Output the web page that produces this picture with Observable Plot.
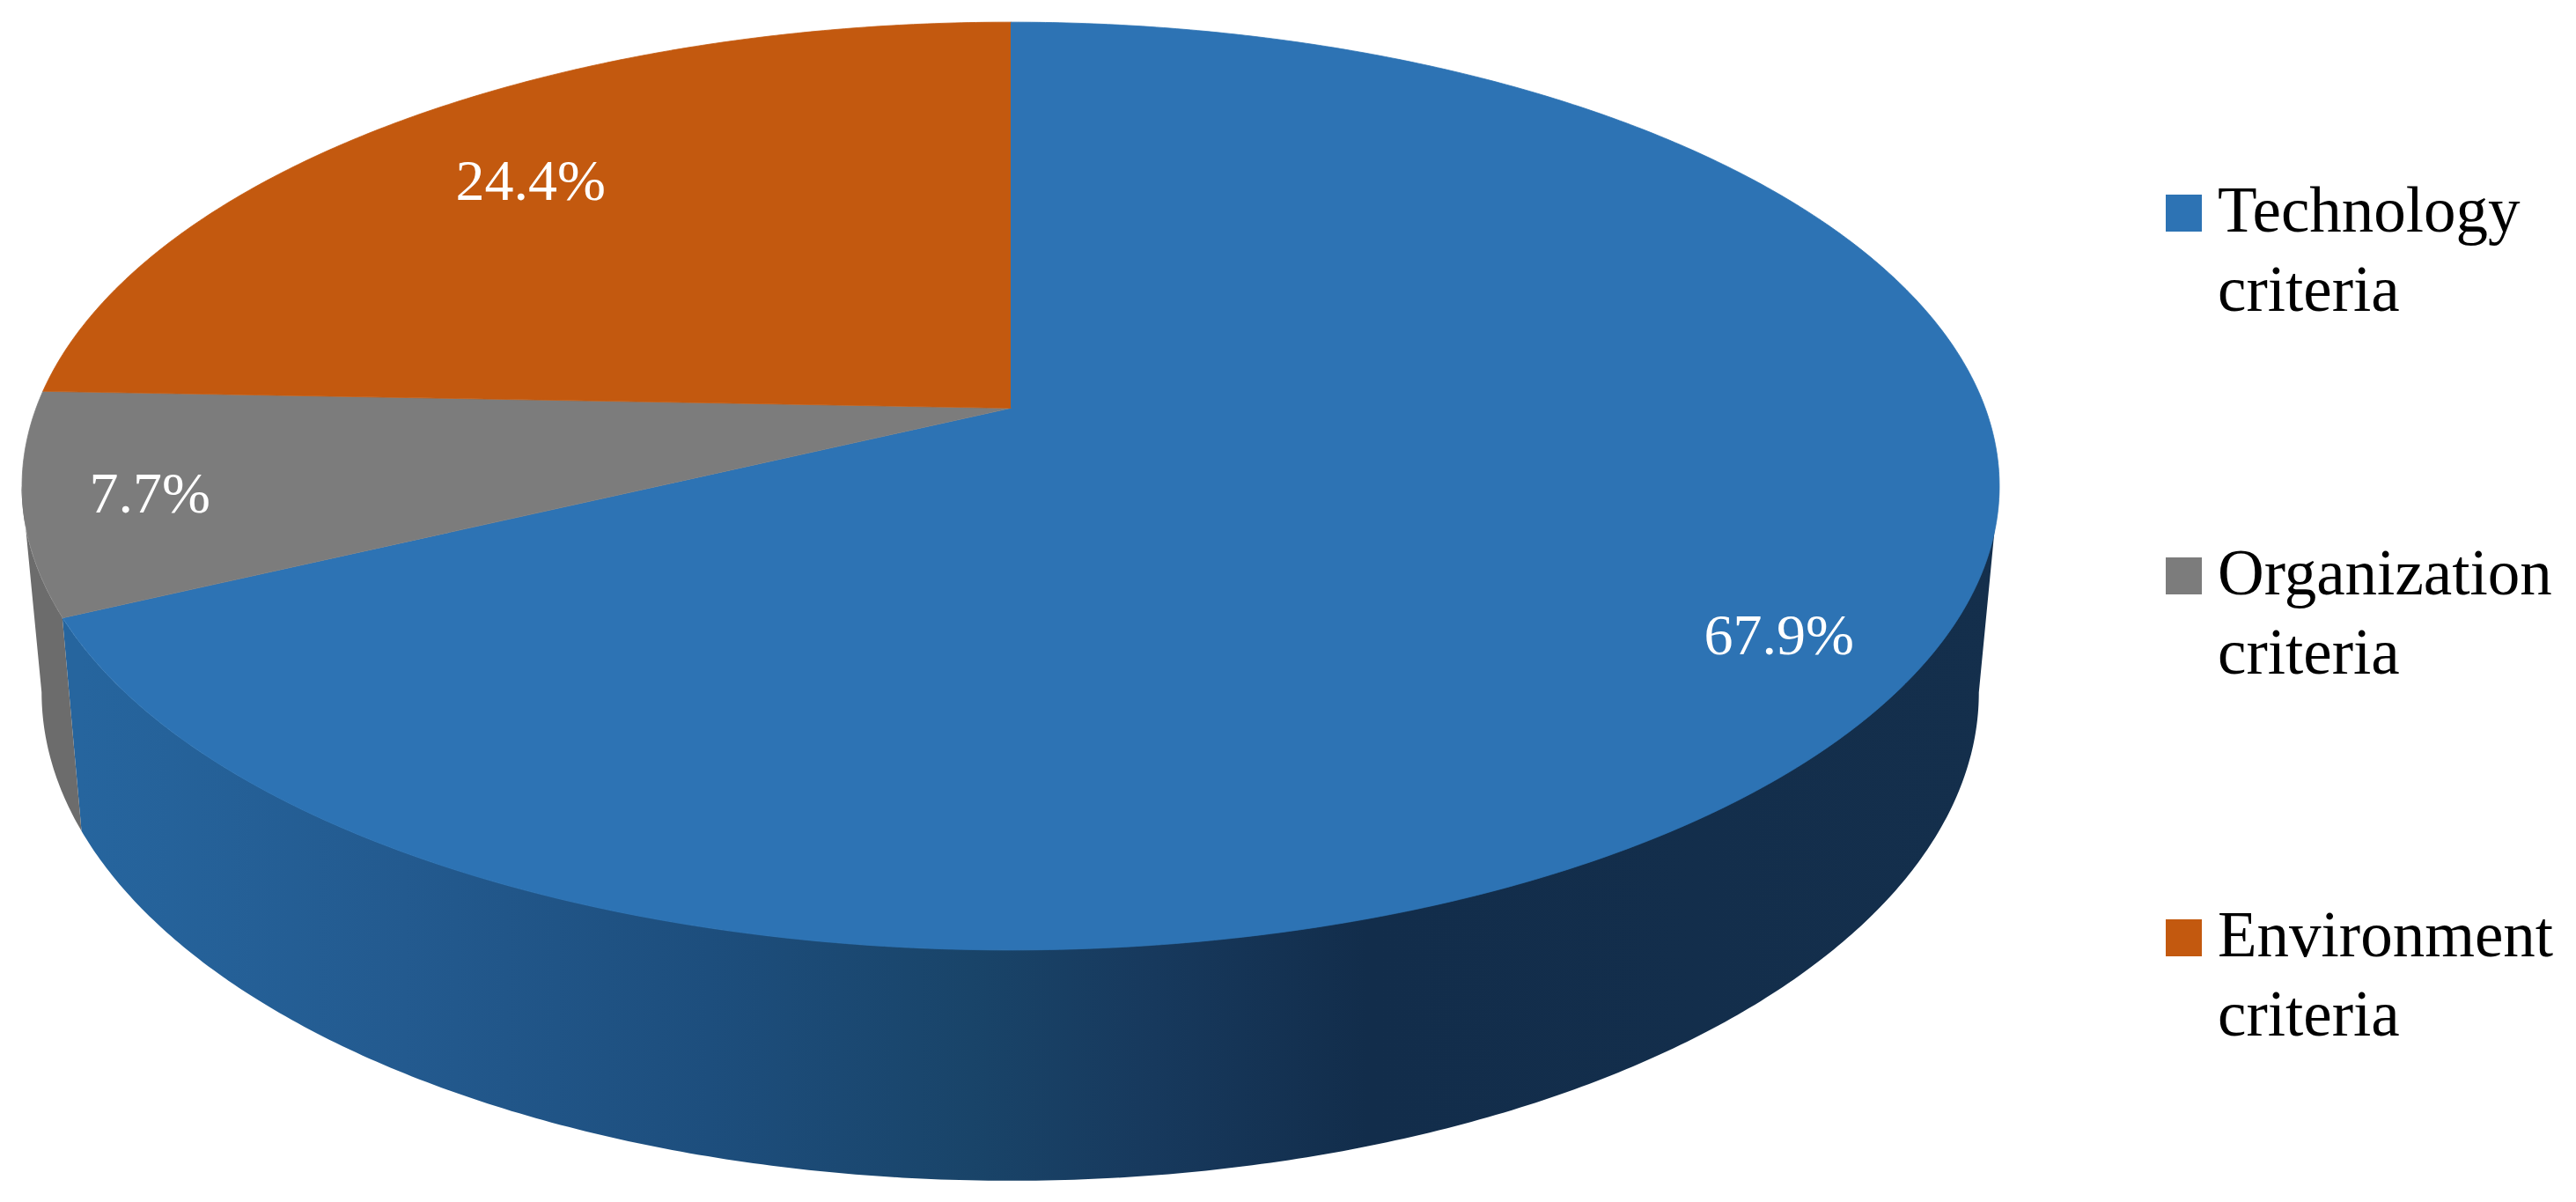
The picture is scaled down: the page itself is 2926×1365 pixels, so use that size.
<!DOCTYPE html>
<html>
<head>
<meta charset="utf-8">
<script src="https://cdn.jsdelivr.net/npm/d3@7"></script>
<script src="https://cdn.jsdelivr.net/npm/@observablehq/plot@0.6"></script>
<style>
  html, body { margin: 0; padding: 0; background: #fff; width: 2926px; height: 1365px; overflow: hidden; }
  #page { position: relative; width: 2926px; height: 1365px; font-family: "Liberation Serif", serif; }
  #chart { position: absolute; left: 0; top: 0; }
  #legend { position: absolute; left: 2460px; top: 194px; display: flex; flex-direction: column; gap: 231.5px; }
  .item { display: flex; height: 180px; }
  .swatch { width: 41px; height: 42px; margin-top: 27px; margin-right: 18px; flex: none; }
  .name { font-size: 73px; line-height: 90px; color: #000; width: 440px; }
</style>
</head>
<body>
<div id="page">
  <div id="chart"></div>
  <div id="legend"></div>
</div>
<script>
// Data
const categories = ["Technology criteria", "Organization criteria", "Environment criteria"];
const shares = [67.9, 7.7, 24.4];
const sliceColors = ["#2D73B4", "#7C7C7C", "#C3590F"];
const wallColors = { "Organization criteria": "#6C6C6C" };

// Drawing: a tilted disc, seen in perspective
const W = 2300, H = 1365;
const cx = 1147.5, persp = 0.168;
const topRim = { A: 1107, B: 512, y0: 463 };
const bottomRim = { A: 1084.6, B: 539, y0: 693 };
const project = (rim, theta, r = 1) => {
  const u = r * Math.sin(theta), v = -r * Math.cos(theta), w = 1 - persp * v;
  return { x: cx + rim.A * u / w, y: rim.y0 + rim.B * v / w };
};

// Slices, clockwise from the top
const total = d3.sum(shares);
let run = 0;
const slices = categories.map((category, i) => {
  const a0 = run / total * 2 * Math.PI;
  run += shares[i];
  const a1 = run / total * 2 * Math.PI;
  return { category, share: shares[i], a0, a1, mid: (a0 + a1) / 2 };
});
const arcSteps = (a0, a1) => {
  const n = Math.max(2, Math.ceil((a1 - a0) * 120));
  return d3.range(n + 1).map((i) => a0 + (a1 - a0) * i / n);
};
const facePoints = slices.flatMap((s) => [
  { category: s.category, ...project(topRim, 0, 0) },
  ...arcSteps(s.a0, s.a1).map((a) => ({ category: s.category, ...project(topRim, a) }))
]);

// Visible side wall: only the front part, between the two silhouette tangents
const rightTangent = Math.PI - Math.acos(persp);
const leftTangent = 2 * Math.PI - rightTangent;
const wallPoints = (s) => {
  const a0 = Math.max(s.a0, rightTangent), a1 = Math.min(s.a1, leftTangent);
  return a1 > a0 ? arcSteps(a0, a1).map((a) => {
    const t = project(topRim, a), b = project(bottomRim, a);
    return { x1: t.x, y1: t.y, x2: b.x, y2: b.y };
  }) : [];
};

// Each label sits at its own reach along the slice's mid-angle
const labelReach = [0.86, 0.875, 0.777];
const labels = slices.map((s, i) => ({
  text: s.share.toFixed(1) + "%",
  ...project(topRim, s.mid, labelReach[i])
}));

const wallGradient = () => {
  const svgNS = "http://www.w3.org/2000/svg";
  const defs = document.createElementNS(svgNS, "defs");
  const g = document.createElementNS(svgNS, "linearGradient");
  g.setAttribute("id", "wallShade");
  g.setAttribute("gradientUnits", "userSpaceOnUse");
  g.setAttribute("x1", 0); g.setAttribute("x2", W);
  g.setAttribute("y1", 0); g.setAttribute("y2", 0);
  [[0.04, "#26659E"], [0.2, "#235A8F"], [0.35, "#1D4E7D"], [0.48, "#194469"],
   [0.57, "#17395D"], [0.675, "#122D4B"], [1, "#142F4C"]].forEach(([o, c]) => {
    const stop = document.createElementNS(svgNS, "stop");
    stop.setAttribute("offset", o);
    stop.setAttribute("stop-color", c);
    g.appendChild(stop);
  });
  defs.appendChild(g);
  return defs;
};

const chart = Plot.plot({
  width: W,
  height: H,
  margin: 0,
  style: { background: "transparent", maxWidth: "none" },
  x: { axis: null, domain: [0, W], range: [0, W] },
  y: { axis: null, domain: [0, H], range: [0, H] },
  color: { domain: categories, range: sliceColors },
  marks: [
    wallGradient,
    ...slices.map((s) => Plot.area(wallPoints(s), {
      x1: "x1", y1: "y1", x2: "x2", y2: "y2",
      fill: wallColors[s.category] || "url(#wallShade)"
    })),
    Plot.line(facePoints, {
      x: "x", y: "y", z: "category",
      fill: "category", stroke: "category", strokeWidth: 0.8
    }),
    Plot.text(labels, {
      x: "x", y: "y", dy: 4, text: "text",
      fill: "#fff", fontSize: 66, fontFamily: "Liberation Serif", lineAnchor: "middle"
    })
  ]
});
document.getElementById("chart").appendChild(chart);

// Legend
const legend = d3.select("#legend");
categories.forEach((name, i) => {
  const item = legend.append("div").attr("class", "item");
  item.append("div").attr("class", "swatch").style("background", sliceColors[i]);
  const [first, second] = name.split(" ");
  const label = item.append("div").attr("class", "name");
  label.append("div").text(first);
  label.append("div").text(second);
});
</script>
</body>
</html>
